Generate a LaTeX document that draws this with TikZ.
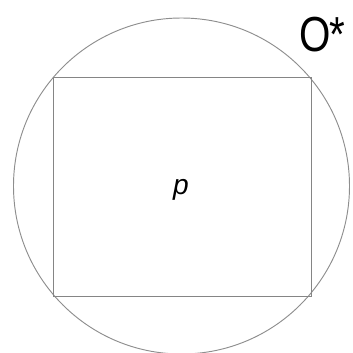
\documentclass[tikz,border=0pt]{standalone}
\usepackage{fontspec}
\setsansfont{Liberation Sans}
\definecolor{rimgray}{HTML}{8E8E8E}
\definecolor{boxgray}{HTML}{858585}

\begin{document}
\begin{tikzpicture}[x=0.03cm, y=-0.03cm,
    rim/.style={draw=rimgray, line width=0.8pt},
    lbl/.style={font=\sffamily, text=black, inner sep=0pt},
  ]
  \useasboundingbox (0,0) rectangle (352,353);
  \coordinate (ctr) at (181.5,186);
  \draw[rim] (ctr) circle[radius=168];
  \draw[rim, draw=boxgray] (53,77) rectangle (311,296);
  \node[lbl, font=\sffamily\itshape\fontsize{24}{24}\selectfont, anchor=base] (plbl) at (181,194) {p};
  \node[lbl, font=\sffamily\fontsize{42}{42}\selectfont, anchor=base west, xscale=0.82] (olbl) at (299,51) {O\kern-1pt*};
\end{tikzpicture}
\end{document}
